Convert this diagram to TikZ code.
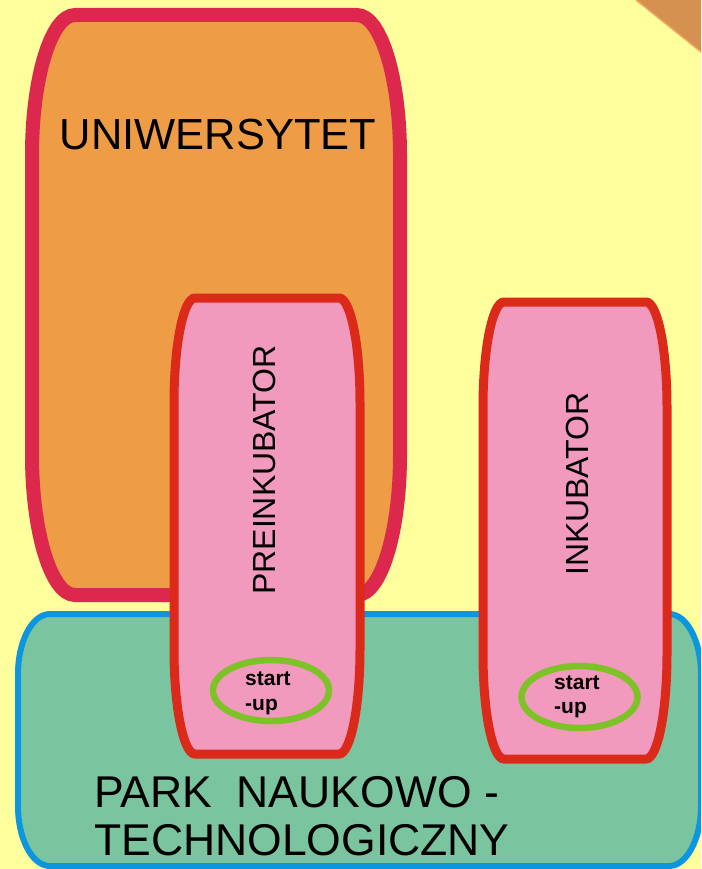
\documentclass[tikz,border=0pt]{standalone}
\usepackage{fontspec}
\setmainfont{Liberation Sans}
\definecolor{bgyellow}{HTML}{FFFF9E}
\definecolor{unifill}{HTML}{EE9C46}
\definecolor{uniborder}{HTML}{DC284C}
\definecolor{pinkfill}{HTML}{F29ABD}
\definecolor{redborder}{HTML}{DC2A1A}
\definecolor{parkfill}{HTML}{7AC5A0}
\definecolor{parkborder}{HTML}{0C96E0}
\definecolor{ellgreen}{HTML}{7DC226}
\definecolor{bandfill}{HTML}{D4914F}
\definecolor{bandedge}{HTML}{F5A862}
% elliptical-corner rectangle: left, top, right, bottom, rx, ry
\newcommand\ERectPath[6]{%
  (#1+#5,#2) -- (#3-#5,#2)
  arc[start angle=-90, end angle=0, x radius=#5, y radius=#6]
  -- (#3,#4-#6)
  arc[start angle=0, end angle=90, x radius=#5, y radius=#6]
  -- (#1+#5,#4)
  arc[start angle=90, end angle=180, x radius=#5, y radius=#6]
  -- (#1,#2+#6)
  arc[start angle=180, end angle=270, x radius=#5, y radius=#6]
  -- cycle}
\tikzset{
  unibox/.style={fill=unifill, draw=uniborder, line width=14pt},
  parkbox/.style={fill=parkfill, draw=parkborder, line width=6pt},
  incbox/.style={fill=pinkfill, draw=redborder, line width=9pt},
  startell/.style={draw=ellgreen, line width=6.5pt},
  bigtext/.style={inner sep=0pt, font=\fontsize{44.5}{48}\selectfont},
  unitext/.style={inner sep=0pt, font=\fontsize{43.5}{48}\selectfont},
  vtext/.style={inner sep=0pt, font=\fontsize{32}{36}\selectfont, rotate=90, anchor=base},
  smalltext/.style={inner sep=0pt, anchor=base west, font=\fontsize{21}{25}\selectfont\bfseries},
}
\begin{document}
\begin{tikzpicture}[x=1pt, y=-1pt]
  \useasboundingbox (0,0) rectangle (701,869);
  \clip (0,0) rectangle (701,869);
  \fill[bgyellow] (0,0) rectangle (701,869);
  % top-right band
  \fill[bandfill] (636,0) -- (705,0) -- (705,55.2) -- cycle;
  \draw[bandedge, line width=1.5pt] (636,0) -- (705,55.2);
  % boxes
  \draw[unibox] \ERectPath{32}{15}{400}{595}{43}{140};
  \draw[parkbox] \ERectPath{18}{614}{701}{866}{32}{60};
  \draw[incbox] \ERectPath{174}{298}{360}{754}{21}{105};
  \draw[incbox] \ERectPath{483}{302}{667}{759}{21}{105};
  % ellipses
  \draw[startell] (271,690.5) ellipse[x radius=58, y radius=30.5];
  \draw[startell] (579.5,697) ellipse[x radius=58, y radius=31];
  % texts
  \node[unitext, anchor=base west] (uni) at (59.5,150) {UNIWERSYTET};
  \node[vtext] (pre) at (275,470) {PREINKUBATOR};
  \node[vtext] (ink) at (588,484) {INKUBATOR};
  \node[bigtext, anchor=base west] (park1) at (94,807) {PARK\ \ NAUKOWO -};
  \node[bigtext, anchor=base west] (park2) at (94,855) {TECHNOLOGICZNY};
  \node[smalltext] (s1a) at (245,685) {start};
  \node[smalltext] (s1b) at (245,710) {-up};
  \node[smalltext] (s2a) at (554,689) {start};
  \node[smalltext] (s2b) at (554,713) {-up};
\end{tikzpicture}
\end{document}
